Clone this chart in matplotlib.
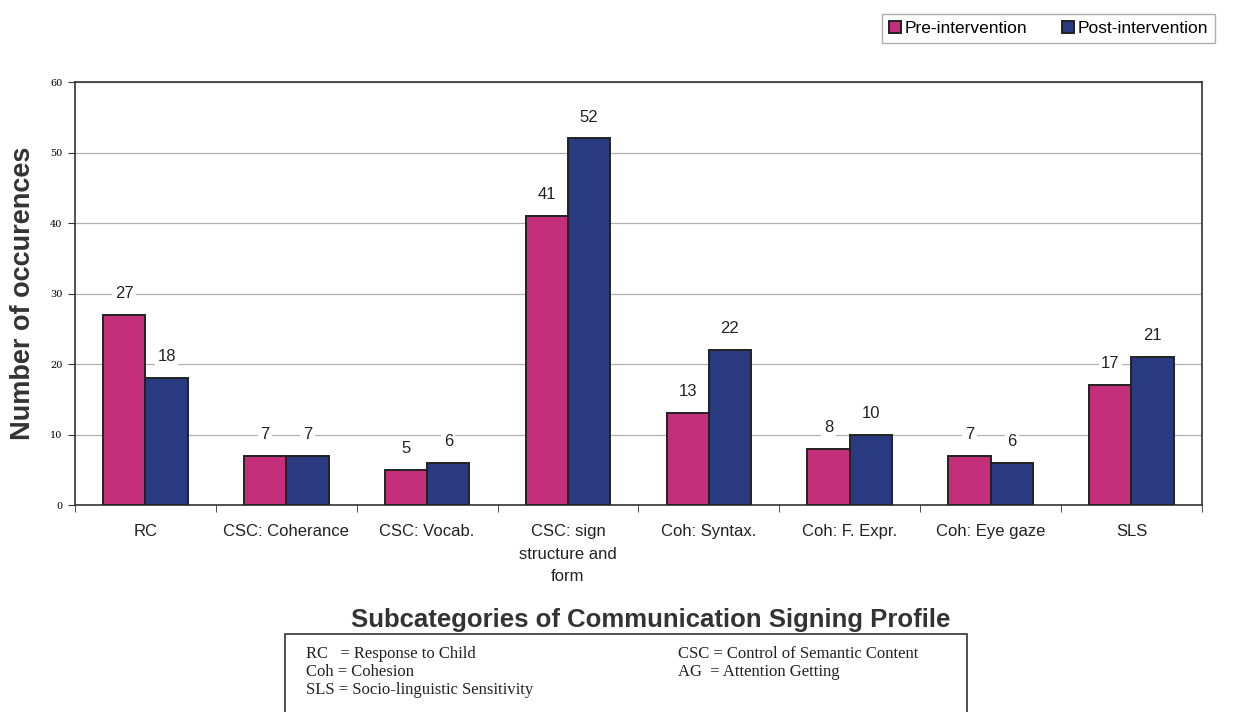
import numpy as np
import matplotlib.pyplot as plt
from matplotlib.patches import Rectangle

categories = ["RC", "CSC: Coherance", "CSC: Vocab.", "CSC: sign\nstructure and\nform",
              "Coh: Syntax.", "Coh: F. Expr.", "Coh: Eye gaze", "SLS"]
pre = [27, 7, 5, 41, 13, 8, 7, 17]
post = [18, 7, 6, 52, 22, 10, 6, 21]
yticks = [0, 10, 20, 30, 40, 50, 60]

pink = "#c42f7c"
navy = "#2a3a80"
sans = "Liberation Sans"

fig = plt.figure(figsize=(12.37, 7.12), dpi=100)
ax = fig.add_axes([0.0606, 0.2907, 0.911, 0.594])

x = np.arange(len(categories))
w = 0.3
b1 = ax.bar(x - w / 2, pre, w, color=pink, edgecolor="#222222", linewidth=1.4, zorder=3)
b2 = ax.bar(x + w / 2, post, w, color=navy, edgecolor="#222222", linewidth=1.4, zorder=3)

for bars, vals in ((b1, pre), (b2, post)):
    for r, v in zip(bars, vals):
        ax.annotate(str(v), (r.get_x() + r.get_width() / 2, v), xytext=(0, 10),
                    textcoords="offset points", ha="center", va="bottom",
                    family=sans, fontsize=12, color="#222222", zorder=4,
                    bbox=dict(boxstyle="square,pad=0.15", fc="white", ec="none"))

ax.set_xlim(-0.5, len(categories) - 0.5)
ax.set_ylim(0, 60)
ax.set_yticks(yticks)
ax.set_yticklabels([str(t) for t in yticks], family="DejaVu Serif", fontsize=7)
ax.yaxis.grid(True, color="#b0b0b0", linewidth=0.9, zorder=0)
ax.set_axisbelow(True)

# category labels in the middle, tick marks on the boundaries
ax.set_xticks(x)
ax.set_xticklabels(categories, family=sans, fontsize=12, color="#222222", linespacing=1.6)
ax.tick_params(axis="x", length=0, pad=14)
ax.set_xticks(np.arange(len(categories) + 1) - 0.5, minor=True)
ax.tick_params(axis="x", which="minor", length=5, direction="out", color="#333333")
ax.tick_params(axis="y", length=5, direction="out", color="#333333", pad=4)
for s in ax.spines.values():
    s.set_color("#333333")
    s.set_linewidth(1.2)

ax.set_ylabel("Number of occurences", family=sans, fontsize=19.5, fontweight="bold",
              color="#333333", labelpad=10)

fig.text(0.526, 0.129, "Subcategories of Communication Signing Profile", family=sans,
         ha="center", va="center", fontsize=18.5, fontweight="bold", color="#333333")

# legend box at the top right
leg = fig.legend([b1, b2], ["Pre-intervention", "Post-intervention"], ncol=2,
                 loc="upper left", bbox_to_anchor=(0.706, 0.993), frameon=True,
                 prop={"family": sans, "size": 12.5}, handlelength=0.7, handleheight=0.7,
                 handletextpad=0.2, columnspacing=2.0, borderpad=0.4, fancybox=False)
leg.get_frame().set_edgecolor("#999999")
leg.get_frame().set_linewidth(1.0)

# abbreviations key
fig.patches.append(Rectangle((0.2304, -0.02), 0.5513, 0.1296, transform=fig.transFigure,
                             fill=False, edgecolor="#333333", linewidth=1.2))
key_left = ["RC   = Response to Child", "Coh = Cohesion", "SLS = Socio-linguistic Sensitivity"]
key_right = ["CSC = Control of Semantic Content", "AG  = Attention Getting"]
rows = [0.0815, 0.056, 0.0305]
for y, t in zip(rows, key_left):
    fig.text(0.2474, y, t, family="Liberation Serif", fontsize=12,
             va="center", color="#222222")
for y, t in zip(rows, key_right):
    fig.text(0.548, y, t, family="Liberation Serif", fontsize=12,
             va="center", color="#222222")

fig.savefig("out.png", dpi=100)
